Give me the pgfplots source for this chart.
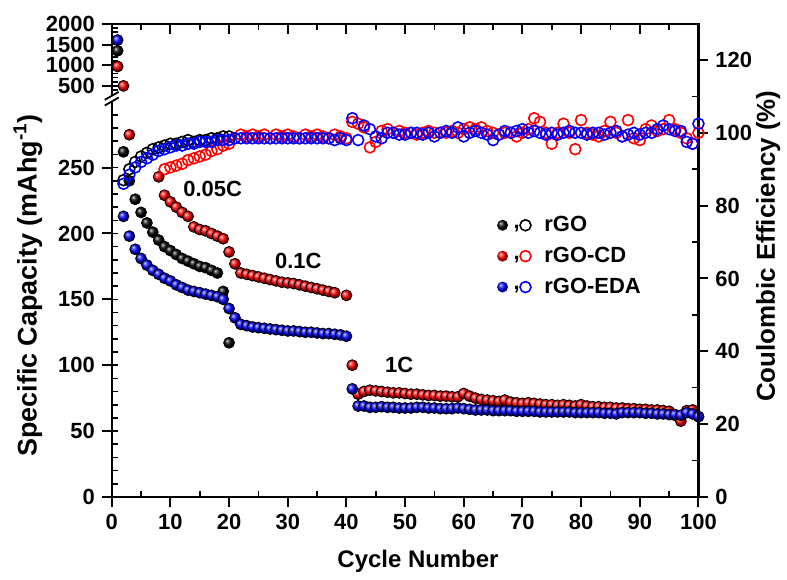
\documentclass[border=0pt]{standalone}
\usepackage{fontspec}
\setmainfont{Liberation Sans}
\usepackage{pgfplots}
\pgfplotsset{compat=1.18}

\newcommand{\tfont}{\bfseries\fontsize{11}{13}\selectfont}
\pgfplotsset{
  base/.style={
    scale only axis, width=294pt, height=237pt,
    xmin=0, xmax=100,
    axis line style={line width=1.1pt},
    tick style={line width=1pt, black},
    minor tick style={line width=0.8pt},
    tick align=outside,
    major tick length=5pt,
    minor tick length=-3pt,
    tick label style={font=\tfont},
    /pgf/number format/assume math mode=true,
    /pgf/number format/1000 sep={},
    clip=false,
  },
  fball/.style={only marks, mark=ball, mark size=2.75pt, ball color=#1, mark options={ball color=#1}},
  hring/.style={only marks, mark=o, mark size=2.75pt, mark options={line width=0.8pt, draw=#1}},
  legsym/.style={legend image code/.code={
    \path[draw=none, fill=none] (0,-1pt) rectangle (22pt,1pt);
    \shade[draw=none, ball color=#1] (3pt,0) circle (2.75pt);
    \node[font=\tfont, inner sep=0pt, draw=none, text=black] at (8.4pt,-1.4pt) {,};
    \draw[draw=#1, fill=none, line width=0.8pt] (14.5pt,0) circle (2.75pt);}},
}

\begin{document}
\begin{tikzpicture}
%------------------ main (lower capacity) axis ------------------
\begin{axis}[base,
  ymin=0, ymax=359.1,
  xtick={0,10,...,100}, minor xtick={5,15,...,95}, xtick pos=bottom,
  ytick={0,50,...,250}, minor ytick={10,20,...,290}, ytick pos=left,
  legend style={at={(axis description cs:0.645,0.509)}, anchor=west, draw=none, fill=none,
    font=\tfont, row sep=2.3pt},
  legend cell align=left,
]
\coordinate (sw) at (rel axis cs:0,0);
\addlegendimage{legsym=black}
\addlegendentry{rGO}
\addlegendimage{legsym=red}
\addlegendentry{rGO-CD}
\addlegendimage{legsym=blue}
\addlegendentry{rGO-EDA}

% rGO discharge capacity
\addplot[fball=black, forget plot] coordinates {
(2,262)(3,240)(4,226)(5,216)(6,208)(7,201)(8,195)(9,190)(10,187)(11,184)
(12,181)(13,179)(14,177)(15,175)(16,174)(17,172)(18,170)(19,156)(20,117)};
% rGO-CD discharge capacity
\addplot[fball=red, forget plot] coordinates {
(3,275)(8,243)(9,229)(10,224)(11,220)(12,216)(13,213)(14,205)(15,203)(16,202)
(17,200)(18,198)(19,196)(20,186)(21,177)(22,170)(23,169)(24,168)(25,167)(26,166)
(27,165)(28,164)(29,163)(30,162.5)(31,162)(32,161)(33,160)(34,159)(35,158)(36,157)
(37,156)(38,155)(40,153)(41,100)
(42,78)(43,80)(44,81)(45,80.5)(46,80)(47,79.5)(48,79)(49,79)(50,78.5)(51,78)
(52,78)(53,77.5)(54,77)(55,77)(56,76.5)(57,76.5)(58,76)(59,76)(60,78.5)(61,76.5)
(62,75)(63,74)(64,73.5)(65,73)(66,72.5)(67,73.5)(68,72)(69,71.5)(70,71)(71,71.5)
(72,71)(73,70.5)(74,70)(75,70)(76,69.5)(77,70)(78,69.5)(79,69)(80,70)(81,69)
(82,68.5)(83,68.5)(84,68)(85,68)(86,67.5)(87,67.5)(88,67)(89,67)(90,66.5)(91,66.5)
(92,66)(93,66)(94,65.5)(95,65)(96,62)(97,57.5)(98,65.5)(99,66)(100,61)};
% rGO-EDA discharge capacity
\addplot[fball=blue, forget plot] coordinates {
(2,213)(3,198)(4,188)(5,181)(6,176)(7,172)(8,169)(9,166)(10,164)(11,161)
(12,159)(13,157)(14,156)(15,155)(16,154)(17,153)(18,152)(19,150)(20,143)(21,136)
(22,131)(23,130)(24,129)(25,128.5)(26,128)(27,127.5)(28,127)(29,126.5)(30,126)(31,126)
(32,125.5)(33,125)(34,125)(35,124.5)(36,124)(37,124)(38,123.5)(39,123)(40,122)(41,82)
(42,69)(43,69)(44,68)(45,68)(46,68.5)(47,68)(48,68)(49,67.5)(50,67.5)(51,67.5)
(52,68)(53,68)(54,67.5)(55,67.5)(56,67)(57,67)(58,67)(59,67.5)(60,67)(61,66.5)
(62,66)(63,66)(64,66)(65,65.5)(66,65.5)(67,65.5)(68,65.5)(69,65)(70,65)(71,65)
(72,65)(73,64.5)(74,64.5)(75,64.5)(76,64.5)(77,64.5)(78,64.5)(79,64)(80,64)(81,64)
(82,64)(83,64)(84,63.5)(85,63.5)(86,63)(87,64)(88,64)(89,64)(90,64)(91,63.5)
(92,63.5)(93,63)(94,63)(95,62.5)(96,62.5)(97,62)(98,64)(99,63)(100,61)};

\node[font=\tfont] at (axis description cs:0.172,0.652) {0.05C};
\node[font=\tfont] at (axis description cs:0.318,0.499) {0.1C};
\node[font=\tfont] at (axis description cs:0.490,0.278) {1C};
\node[font=\bfseries\fontsize{13.5}{16}\selectfont, rotate=90] at (axis description cs:-0.143,0.447) {Specific Capacity (mAhg\textsuperscript{-1})};
\node[font=\bfseries\fontsize{13}{15}\selectfont, rotate=90] at (axis description cs:1.119,0.53) {Coulombic Efficiency (\%)};
\node[font=\bfseries\fontsize{12}{14}\selectfont] at (axis description cs:0.522,-0.137) {Cycle Number};
\end{axis}

%------------------ Coulombic efficiency axis (right) ------------------
\begin{axis}[base,
  ymin=0, ymax=129.9,
  hide x axis,
  axis y line*=right,
  ytick={0,20,...,120}, minor ytick={10,30,...,110},
]
% rGO CE
\addplot[hring=black] coordinates {
(2,87)(3,90)(4,92)(5,93.5)(6,94.5)(7,95.5)(8,96)(9,96.5)(10,97)(11,97)
(12,97.5)(13,98)(14,97.5)(15,98)(16,98)(17,98.5)(18,98.5)(19,99)(20,99)};
% rGO-CD CE
\addplot[hring=red] coordinates {
(9,90)(10,90.5)(11,91)(12,91.5)(13,92.5)(14,93)(15,93.5)(16,94)(17,95)(18,95.5)
(19,96.5)(20,97)(21,98.5)(22,99.5)(23,99)(24,99.5)(25,99)(26,99.5)(27,98.5)(28,99.5)
(29,99)(30,99.5)(31,99)(32,98.5)(33,99.5)(34,99)(35,99.5)(36,99)(37,98.5)(38,99.5)
(39,99)(40,98.5)(41,103)(42,102.5)(43,101.5)(44,96)(45,97.5)(46,100.5)(47,101)(48,100)
(49,100.5)(50,100)(51,100)(52,99.5)(53,100)(54,100.5)(55,100)(56,100)(57,100)(58,100.5)
(59,100)(60,101)(61,101.5)(62,101)(63,101.5)(64,100.5)(65,100)(66,99.5)(67,100)(68,100)
(69,99)(70,100)(71,101)(72,104)(73,103)(74,100)(75,97)(76,100)(77,102.5)(78,100)
(79,95.5)(80,103.5)(81,100)(82,99.5)(83,99)(84,100.5)(85,103)(86,100)(87,99)(88,103.5)
(89,98.5)(90,98)(91,101)(92,102)(93,100.5)(94,101)(95,103.5)(96,101)(97,100)(98,98.5)
(99,97)(100,100)};
% rGO-EDA CE
\addplot[hring=blue] coordinates {
(2,86)(3,88.5)(4,90.5)(5,92)(6,93)(7,94)(8,95)(9,95.5)(10,96)(11,96.5)
(12,96.5)(13,97)(14,97)(15,97.5)(16,97.5)(17,97.5)(18,98)(19,98)(20,98)(21,98.5)
(22,98.5)(23,98.5)(24,98.5)(25,98.5)(26,98.5)(27,98.5)(28,98.5)(29,98.5)(30,98.5)(31,98.5)
(32,98.5)(33,98.5)(34,98.5)(35,98.5)(36,98.5)(37,98.5)(38,98)(39,98.5)(40,98)(41,104)
(42,98)(43,102)(44,101)(45,99)(46,98.5)(47,100)(48,100)(49,99.5)(50,99.5)(51,100)
(52,100)(53,99.5)(54,100)(55,99)(56,100)(57,100.5)(58,100)(59,101.5)(60,99)(61,100)
(62,100.5)(63,100)(64,99.5)(65,98)(66,99.5)(67,100.5)(68,100)(69,100.5)(70,101)(71,100)
(72,100.5)(73,100)(74,99.5)(75,100)(76,99.5)(77,100)(78,100.5)(79,100)(80,100)(81,99.5)
(82,100)(83,100)(84,99.5)(85,100)(86,100.5)(87,99)(88,99.5)(89,100)(90,99.5)(91,100)
(92,100)(93,101)(94,102)(95,101)(96,100.5)(97,100.5)(98,97.5)(99,97)(100,102.5)};
\end{axis}

%------------------ upper capacity axis (broken part) ------------------
\begin{axis}[base,
  ymin=-9447, ymax=2000,
  hide x axis,
  axis y line*=left, y axis line style={draw=none},
  ytick={500,1000,1500,2000}, minor ytick={400,500,...,1900},
]
\addplot[fball=black] coordinates {(1,1350)};
\addplot[fball=red] coordinates {(1,970)(2,500)};
\addplot[fball=blue] coordinates {(1,1610)};
\end{axis}

%------------------ top ticks and axis break ------------------
\begin{axis}[base,
  ymin=0, ymax=1,
  hide y axis,
  axis x line*=top,
  xtick={0,10,...,100}, minor xtick={5,15,...,95}, xticklabels={},
  tick align=inside, minor tick length=3pt,
]
\fill[white] ([xshift=-2pt]rel axis cs:0,0.836) rectangle ([xshift=2pt]rel axis cs:0,0.848);
\draw[line width=0.9pt] ([shift={(-3.5pt,-2pt)}]rel axis cs:0,0.836) -- ([shift={(3.5pt,2pt)}]rel axis cs:0,0.836);
\draw[line width=0.9pt] ([shift={(-3.5pt,-2pt)}]rel axis cs:0,0.848) -- ([shift={(3.5pt,2pt)}]rel axis cs:0,0.848);
\end{axis}

\path ([shift={(-56pt,-40pt)}]sw) rectangle ([shift={(337.5pt,249pt)}]sw);
\end{tikzpicture}
\end{document}
